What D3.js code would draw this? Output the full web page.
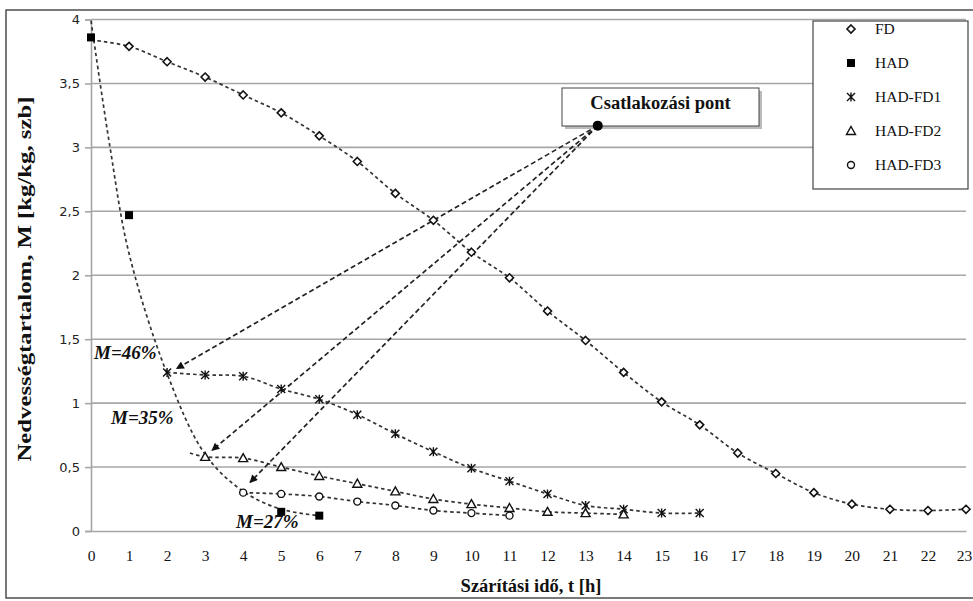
<!DOCTYPE html>
<html><head><meta charset="utf-8">
<script src="https://cdn.jsdelivr.net/npm/d3@7"></script>
<style>body{margin:0;background:#fff} svg{display:block}</style>
</head><body><svg id="c" width="973" height="601"></svg>
<script>
// ---- data ----
const xTicks = [0,1,2,3,4,5,6,7,8,9,10,11,12,13,14,15,16,17,18,19,20,21,22,23];
const xTickLabels = ["0","1","2","3","4","5","6","7","8","9","10","11","12","13","14","15","16","17","18","19","20","21","22","23"];
const yTicks = [0,0.5,1,1.5,2,2.5,3,3.5,4];
const yTickLabels = ["0","0,5","1","1,5","2","2,5","3","3,5","4"];

const fdT = [0,1,2,3,4,5,6,7,8,9,10,11,12,13,14,15,16,17,18,19,20,21,22,23];
const fdM = [3.84,3.79,3.67,3.55,3.41,3.27,3.09,2.89,2.64,2.43,2.18,1.98,1.72,1.49,1.24,1.01,0.83,0.61,0.45,0.30,0.21,0.17,0.16,0.17];

const hadT = [0,1,5,6];
const hadM = [3.86,2.47,0.15,0.12];
const hadFitT = [0,0.5,1,2,3,4,5,6];
const hadFitM = [3.99,3.0,2.17,1.23,0.60,0.31,0.17,0.12];

const fd1T = [2,3,4,5,6,7,8,9,10,11,12,13,14,15,16];
const fd1M = [1.24,1.22,1.21,1.11,1.03,0.91,0.76,0.62,0.49,0.39,0.29,0.20,0.17,0.14,0.14];

const fd2T = [3,4,5,6,7,8,9,10,11,12,13,14];
const fd2M = [0.58,0.57,0.50,0.43,0.37,0.31,0.25,0.21,0.18,0.15,0.14,0.13];
const fd2TrendStart = [2.6,0.61];

const fd3T = [4,5,6,7,8,9,10,11];
const fd3M = [0.30,0.29,0.27,0.23,0.20,0.16,0.14,0.12];

const joinPoint = [13.32,3.17];
const arrowT = [2.25,3.18,4.18];
const arrowM = [1.27,0.63,0.38];
const mLabels = ["M=46%","M=35%","M=27%"];

const seriesNames = ["FD","HAD","HAD-FD1","HAD-FD2","HAD-FD3"];
const seriesSymbols = ["diamond","square","star","triangle","circle"];

// ---- chart ----
const svg = d3.select("#c");
const x = d3.scaleLinear().domain([0,23]).range([91,966]);
const y = d3.scaleLinear().domain([0,4]).range([531,19.5]);
const grid = "#a6a6a6";
const serif = "'Liberation Serif','Times New Roman',serif";

// outer frame (right edge runs off the picture, as in the reference)
svg.append("rect").attr("x",6).attr("y",10).attr("width",975).attr("height",588)
  .attr("fill","none").attr("stroke","#333").attr("stroke-width",1.3);

// gridlines
svg.append("g").selectAll("line").data(yTicks.slice(1)).join("line")
  .attr("x1",x(0)).attr("x2",x(23)).attr("y1",d=>y(d)).attr("y2",d=>y(d))
  .attr("stroke",grid).attr("stroke-width",1.6);

// axes
const yAxis = svg.append("g").attr("transform",`translate(${x(0)},0)`)
  .call(d3.axisLeft(y).tickValues(yTicks).tickFormat((d,i)=>yTickLabels[i]).tickSize(6).tickPadding(5));
yAxis.select(".domain").attr("stroke",grid).attr("stroke-width",1.6);
yAxis.selectAll(".tick line").attr("stroke",grid).attr("stroke-width",1.6);
yAxis.selectAll(".tick text").attr("font-family","'DejaVu Sans',Verdana,sans-serif").attr("font-size",13).attr("fill","#222");

const xAxis = svg.append("g").attr("transform",`translate(0,${y(0)})`)
  .call(d3.axisBottom(x).tickValues(xTicks).tickFormat((d,i)=>xTickLabels[i]).tickSize(0).tickPadding(19));
xAxis.select(".domain").attr("stroke",grid).attr("stroke-width",1.6);
xAxis.selectAll(".tick text").attr("font-family",serif).attr("font-size",15.5).attr("fill","#111")
  .attr("dx",(d,i)=> i===xTicks.length-1 ? -2 : 0);

// axis titles
svg.append("text").attr("x",531).attr("y",592).attr("text-anchor","middle")
  .attr("font-family",serif).attr("font-weight","bold").attr("font-size",18.5).attr("fill","#111")
  .text("Szárítási idő, t [h]");
svg.append("text").attr("transform","translate(31,279) rotate(-90)").attr("text-anchor","middle")
  .attr("font-family",serif).attr("font-weight","bold").attr("font-size",19).attr("fill","#111")
  .attr("textLength",365).attr("lengthAdjust","spacingAndGlyphs")
  .text("Nedvességtartalom, M [kg/kg, szb]");

// trend lines
const trend = (ts,ms)=> d3.line().x(d=>x(d[0])).y(d=>y(d[1])).curve(d3.curveCatmullRom)(ts.map((t,i)=>[t,ms[i]]));
const tl = svg.append("g").attr("fill","none").attr("stroke","#333").attr("stroke-width",1.7).attr("stroke-dasharray","3.5,3");
tl.append("path").attr("d",trend(fdT,fdM));
tl.append("path").attr("d",trend(hadFitT,hadFitM));
tl.append("path").attr("d",trend(fd1T,fd1M));
tl.append("path").attr("d",trend([fd2TrendStart[0]].concat(fd2T),[fd2TrendStart[1]].concat(fd2M)));
tl.append("path").attr("d",trend(fd3T,fd3M));

// arrows
const defs = svg.append("defs");
defs.append("marker").attr("id","ah").attr("viewBox","0 0 10 10").attr("refX",9).attr("refY",5)
  .attr("markerWidth",11).attr("markerHeight",8).attr("markerUnits","userSpaceOnUse").attr("orient","auto")
  .append("path").attr("d","M0,0L10,5L0,10Z").attr("fill","#111");
svg.append("g").selectAll("line").data(arrowT).join("line")
  .attr("x1",x(joinPoint[0])).attr("y1",y(joinPoint[1]))
  .attr("x2",(d)=>x(d)).attr("y2",(d,i)=>y(arrowM[i]))
  .attr("stroke","#222").attr("stroke-width",1.7).attr("stroke-dasharray","5,3")
  .attr("marker-end","url(#ah)");

// markers
function drawSym(g, type, cx, cy){
  if(type==="diamond"){
    g.append("path").attr("d",`M${cx},${cy-4}L${cx+4},${cy}L${cx},${cy+4}L${cx-4},${cy}Z`)
      .attr("fill","#fff").attr("stroke","#111").attr("stroke-width",1.6);
  } else if(type==="square"){
    g.append("rect").attr("x",cx-4).attr("y",cy-4).attr("width",8).attr("height",8).attr("fill","#000");
  } else if(type==="star"){
    g.append("path").attr("d",`M${cx-4},${cy-4}L${cx+4},${cy+4}M${cx+4},${cy-4}L${cx-4},${cy+4}M${cx},${cy-4.5}L${cx},${cy+4.5}`)
      .attr("stroke","#111").attr("stroke-width",1.4).attr("fill","none");
  } else if(type==="triangle"){
    g.append("path").attr("d",`M${cx},${cy-4.5}L${cx+4.5},${cy+3.5}L${cx-4.5},${cy+3.5}Z`)
      .attr("fill","#fff").attr("stroke","#111").attr("stroke-width",1.4);
  } else if(type==="circle"){
    g.append("circle").attr("cx",cx).attr("cy",cy).attr("r",3.5)
      .attr("fill","#fff").attr("stroke","#111").attr("stroke-width",1.4);
  }
}
const mk = svg.append("g");
fdT.forEach((t,i)=>{ if(i>0) drawSym(mk,"diamond",x(t),y(fdM[i])); });
fd1T.forEach((t,i)=>drawSym(mk,"star",x(t),y(fd1M[i])));
fd2T.forEach((t,i)=>drawSym(mk,"triangle",x(t),y(fd2M[i])));
fd3T.forEach((t,i)=>drawSym(mk,"circle",x(t),y(fd3M[i])));
hadT.forEach((t,i)=>drawSym(mk,"square",x(t),y(hadM[i])));

// join point label box
const bx = 562, by = 88, bw = 197, bh = 38;
svg.append("rect").attr("x",bx+3).attr("y",by+3).attr("width",bw).attr("height",bh).attr("fill","#bbb");
svg.append("rect").attr("x",bx).attr("y",by).attr("width",bw).attr("height",bh)
  .attr("fill","#fff").attr("stroke","#444").attr("stroke-width",1);
svg.append("text").attr("x",bx+bw/2).attr("y",by+21).attr("text-anchor","middle")
  .attr("font-family",serif).attr("font-weight","bold").attr("font-size",18.5).attr("fill","#111")
  .text("Csatlakozási pont");
svg.append("circle").attr("cx",x(joinPoint[0])).attr("cy",y(joinPoint[1])).attr("r",5).attr("fill","#000");

// M= labels
const labPos = [[94,359],[111,424],[236,528]];
svg.append("g").selectAll("text").data(mLabels).join("text")
  .attr("x",(d,i)=>labPos[i][0]).attr("y",(d,i)=>labPos[i][1])
  .attr("font-family",serif).attr("font-weight","bold").attr("font-style","italic")
  .attr("font-size",19).attr("fill","#111").text(d=>d);

// legend
const lg = svg.append("g");
lg.append("rect").attr("x",813).attr("y",21).attr("width",155).attr("height",168)
  .attr("fill","#fff").attr("stroke","#444").attr("stroke-width",1.2);
seriesNames.forEach((n,i)=>{
  const yy = 29 + i*34;
  drawSym(lg, seriesSymbols[i], 851, yy);
  lg.append("text").attr("x",875).attr("y",yy+5).attr("font-family",serif)
    .attr("font-size",15.5).attr("fill","#111").text(n);
});
</script></body></html>
